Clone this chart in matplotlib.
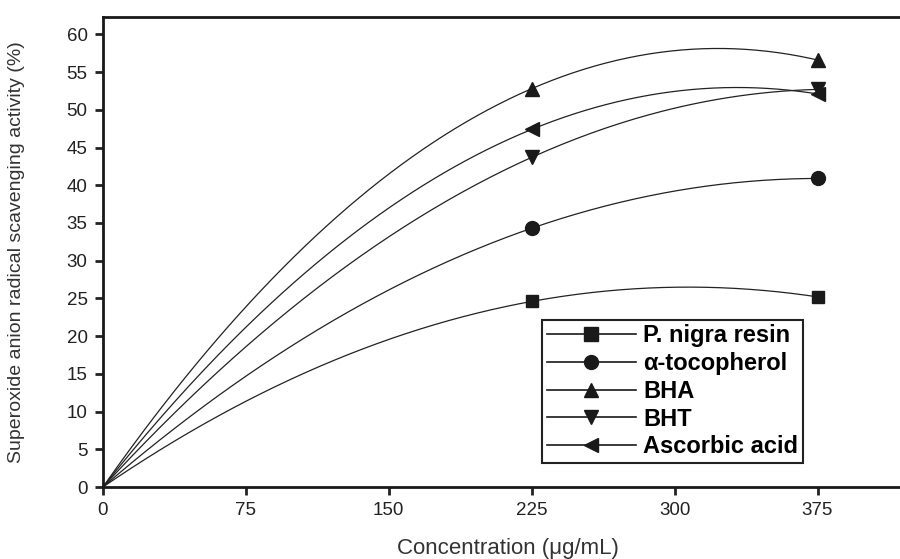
import numpy as np
import matplotlib
matplotlib.use("Agg")
import matplotlib.pyplot as plt

plt.rcParams['font.family'] = ['Liberation Sans', 'DejaVu Sans']

# measured concentrations and activities
conc = [0, 225, 375]
series_names = ['P. nigra resin', '\u03b1-tocopherol', 'BHA', 'BHT', 'Ascorbic acid']
series_values = [
    [0, 24.6, 25.2],
    [0, 34.3, 40.9],
    [0, 52.8, 56.6],
    [0, 43.7, 52.7],
    [0, 47.4, 52.1],
]
markers = ['s', 'o', '^', 'v', '<']
x_ticks = [0, 75, 150, 225, 300, 375]
y_ticks = list(range(0, 61, 5))

fig = plt.figure(figsize=(9, 5.59), dpi=100)
ax = fig.add_axes([0.1144, 0.1288, 0.885, 0.8408])

# smooth curve through the three points (like the original spline)
xs = np.linspace(conc[0], conc[-1], 200)
for name, vals, m in zip(series_names, series_values, markers):
    coef = np.polyfit(conc, vals, 2)
    ax.plot(xs, np.polyval(coef, xs), color='#222222', lw=0.9)
    ax.plot(conc[1:], vals[1:], linestyle='none', marker=m, color='#1a1a1a',
            markersize=10 if m != 's' else 9)
    ax.plot([], [], color='#1a1a1a', lw=1.2, marker=m, markersize=10, label=name)

ax.set_xlim(0, 418)
ax.set_ylim(0, 62.3)
ax.set_xticks(x_ticks)
ax.set_yticks(y_ticks)
ax.tick_params(direction='out', length=6, width=2, labelsize=13.5,
               colors='#222222', pad=5)
for s in ['left', 'bottom', 'top']:
    ax.spines[s].set_linewidth(2)
    ax.spines[s].set_color('#1a1a1a')
ax.spines['right'].set_visible(False)

ax.set_xlabel('Concentration (\u03bcg/mL)', fontsize=16, color='#333333',
              va='center')
ax.set_ylabel('Superoxide anion radical scavenging activity (%)', fontsize=14,
              color='#333333', va='center', ha='center')
ax.xaxis.set_label_coords(0.508, -0.13)
ax.yaxis.set_label_coords(-0.108, 0.5)

leg = ax.legend(loc='lower right', bbox_to_anchor=(0.879, 0.051), frameon=True,
                fancybox=False, edgecolor='#222222', framealpha=1,
                prop={'weight': 'bold', 'size': 17}, handlelength=3.8,
                handletextpad=0.3, labelspacing=0.2, borderpad=0.2,
                borderaxespad=0)
leg.get_frame().set_linewidth(1.5)

fig.savefig('out.png', dpi=100)
